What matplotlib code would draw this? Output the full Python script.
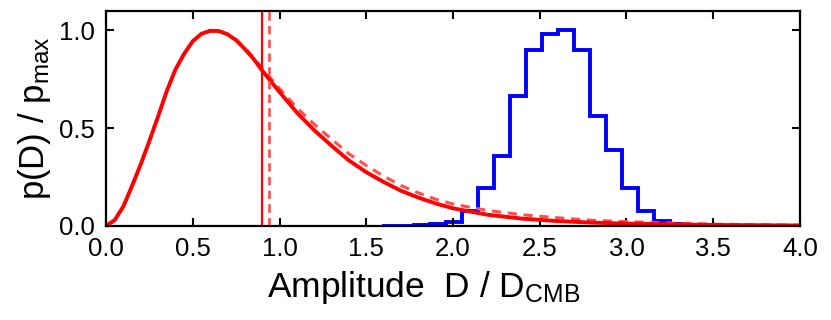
import numpy as np
import matplotlib
matplotlib.use("Agg")
from matplotlib import pyplot as plt

plt.rcParams["font.family"] = ["Liberation Sans", "DejaVu Sans"]
plt.rcParams["mathtext.default"] = "regular"

# posterior of the dipole amplitude (solid) and the alternative prior (dashed)
amp = [0.0, 0.05, 0.1, 0.15, 0.2, 0.25, 0.3, 0.35, 0.4, 0.45, 0.5, 0.55,
       0.6, 0.65, 0.7, 0.75, 0.8, 0.85, 0.9, 0.95, 1.0, 1.1, 1.2, 1.3,
       1.4, 1.5, 1.6, 1.7, 1.8, 1.9, 2.0, 2.2, 2.4, 2.6, 2.8, 3.0, 3.2,
       3.5, 4.0]
p_solid = [0.0, 0.03, 0.10, 0.205, 0.315, 0.435, 0.56, 0.69, 0.80, 0.88,
           0.945, 0.983, 0.998, 0.997, 0.98, 0.95, 0.905, 0.855, 0.795,
           0.74, 0.685, 0.58, 0.49, 0.41, 0.335, 0.275, 0.225, 0.18, 0.145,
           0.115, 0.09, 0.057, 0.037, 0.025, 0.017, 0.012, 0.009, 0.005,
           0.002]
p_dashed = [0.0, 0.03, 0.10, 0.205, 0.315, 0.435, 0.56, 0.69, 0.80, 0.88,
            0.945, 0.983, 0.998, 0.998, 0.982, 0.953, 0.91, 0.863, 0.807,
            0.755, 0.703, 0.605, 0.52, 0.444, 0.369, 0.309, 0.255, 0.207,
            0.169, 0.137, 0.112, 0.079, 0.057, 0.042, 0.029, 0.022, 0.016,
            0.009, 0.004]
d_median = 0.90
d_median_alt = 0.94

# simulated amplitudes (blue histogram)
hist_edges = [1.588, 1.681, 1.773, 1.865, 1.958, 2.05, 2.142, 2.235, 2.327,
              2.419, 2.512, 2.604, 2.696, 2.788, 2.881, 2.973, 3.065, 3.158,
              3.25, 3.342, 3.435]
hist_vals = [0.001, 0.002, 0.005, 0.01, 0.02, 0.078, 0.193, 0.358, 0.667,
             0.898, 0.98, 1.0, 0.898, 0.56, 0.386, 0.193, 0.078, 0.027,
             0.01, 0.004]

fig = plt.figure(figsize=(8.31, 3.2), dpi=100)
ax = fig.add_axes([0.1276, 0.294, 0.835, 0.672])

ax.stairs(hist_vals, hist_edges, color="blue", lw=2.8, baseline=0)
ax.plot(amp, p_dashed, color="#ff5050", lw=2.2, ls=(0, (3, 2.2)))
ax.plot(amp, p_solid, color="red", lw=2.8, solid_joinstyle="round")
ax.axvline(d_median, color="red", lw=1.6)
ax.axvline(d_median_alt, color="#ff5050", lw=1.9, ls=(0, (3.2, 2)))

ax.set_xlim(0, 4)
ax.set_ylim(0, 1.1)
ax.set_xticks(np.arange(0, 4.01, 0.5))
ax.set_yticks([0.0, 0.5, 1.0])
ax.tick_params(direction="in", length=6, width=1.5, top=True, right=True,
               labelsize=18.5, pad=8)
for s in ax.spines.values():
    s.set_linewidth(1.6)

ax.set_xlabel("Amplitude  D / D$_{CMB}$", fontsize=25.5, labelpad=2)
ax.xaxis.set_label_coords(0.458, -0.2)
ax.xaxis.label.set_va("top")
ax.set_ylabel("p(D) / p$_{max}$", fontsize=25, labelpad=4)

plt.savefig("out.png", dpi=100)
